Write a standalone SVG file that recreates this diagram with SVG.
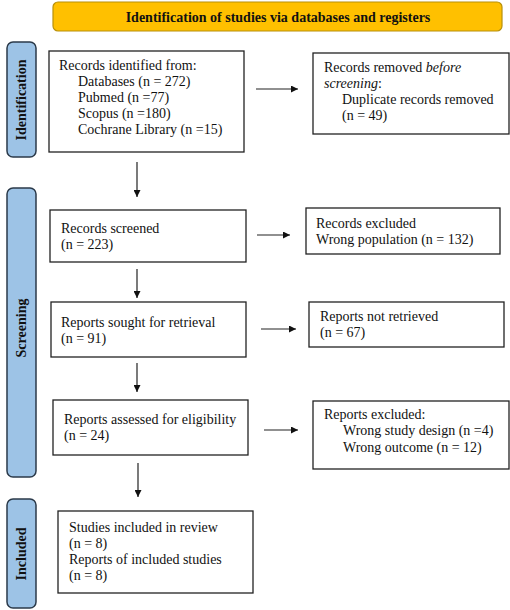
<svg xmlns="http://www.w3.org/2000/svg" width="510" height="610" viewBox="0 0 510 610">
<style>
.box{fill:#fff;stroke:#222;stroke-width:1.3}
.t{font-family:"Liberation Serif","Times New Roman",serif;font-size:14px;fill:#111}
.side{fill:#9DC3E6;stroke:#2B3A4A;stroke-width:1.5}
.st{font-family:"Liberation Serif","Times New Roman",serif;font-size:14px;font-weight:bold;fill:#111;text-anchor:middle}
.ln{stroke:#222;stroke-width:1.2;fill:none;marker-end:url(#ah)}
</style>
<defs>
<marker id="ah" viewBox="0 0 10 10" refX="10" refY="5" markerWidth="7" markerHeight="7" markerUnits="userSpaceOnUse" orient="auto">
<path d="M0,0 L10,5 L0,10 z" fill="#111"/>
</marker>
</defs>
<g id="banner">
<rect x="53" y="2" width="449" height="29" rx="5" fill="#FFC000" stroke="#B8900A" stroke-width="1.2"/>
<text x="278" y="21.5" class="st">Identification of studies via databases and registers</text>
</g>
<g id="side-identification">
<rect class="side" x="7" y="42" width="29" height="115" rx="6"/>
<text class="st" transform="translate(26,100) rotate(-90)">Identification</text>
</g>
<g id="side-screening">
<rect class="side" x="7" y="188" width="29" height="289" rx="6"/>
<text class="st" transform="translate(26,328) rotate(-90)">Screening</text>
</g>
<g id="side-included">
<rect class="side" x="7" y="499" width="29" height="109" rx="6"/>
<text class="st" transform="translate(26,554) rotate(-90)">Included</text>
</g>
<g id="records-identified">
<rect class="box" x="49" y="51" width="195" height="101"/>
<text class="t" x="59" y="70">Records identified from:</text>
<text class="t" x="78" y="86">Databases (n = 272)</text>
<text class="t" x="78" y="102">Pubmed (n =77)</text>
<text class="t" x="78" y="118">Scopus (n =180)</text>
<text class="t" x="78" y="134">Cochrane Library (n =15)</text>
</g>
<g id="records-removed">
<rect class="box" x="313" y="53" width="196" height="81"/>
<text class="t" x="324" y="72">Records removed <tspan font-style="italic">before</tspan></text>
<text class="t" x="324" y="88"><tspan font-style="italic">screening</tspan>:</text>
<text class="t" x="342" y="104">Duplicate records removed</text>
<text class="t" x="342" y="120">(n = 49)</text>
</g>
<g id="records-screened">
<rect class="box" x="50" y="210" width="196" height="52"/>
<text class="t" x="61" y="233">Records screened</text>
<text class="t" x="61" y="249">(n = 223)</text>
</g>
<g id="records-excluded">
<rect class="box" x="306" y="208" width="194" height="46"/>
<text class="t" x="316" y="228">Records excluded</text>
<text class="t" x="316" y="244">Wrong population (n = 132)</text>
</g>
<g id="reports-sought">
<rect class="box" x="51" y="302" width="195" height="55"/>
<text class="t" x="61" y="327">Reports sought for retrieval</text>
<text class="t" x="61" y="343">(n = 91)</text>
</g>
<g id="reports-not-retrieved">
<rect class="box" x="309" y="302" width="195" height="45"/>
<text class="t" x="320" y="321">Reports not retrieved</text>
<text class="t" x="320" y="337">(n = 67)</text>
</g>
<g id="reports-assessed">
<rect class="box" x="53" y="400" width="195" height="55"/>
<text class="t" x="64" y="424">Reports assessed for eligibility</text>
<text class="t" x="64" y="440">(n = 24)</text>
</g>
<g id="reports-excluded">
<rect class="box" x="313" y="401" width="196" height="68"/>
<text class="t" x="324" y="419">Reports excluded:</text>
<text class="t" x="343" y="435">Wrong study design (n =4)</text>
<text class="t" x="343" y="452">Wrong outcome (n = 12)</text>
</g>
<g id="studies-included">
<rect class="box" x="58" y="511" width="195" height="82"/>
<text class="t" x="69" y="532">Studies included in review</text>
<text class="t" x="69" y="548">(n = 8)</text>
<text class="t" x="69" y="564">Reports of included studies</text>
<text class="t" x="69" y="580">(n = 8)</text>
</g>
<g id="connectors">
<line class="ln" x1="256" y1="89" x2="298" y2="89"/>
<line class="ln" x1="137" y1="162" x2="137" y2="197"/>
<line class="ln" x1="257" y1="235" x2="290" y2="235"/>
<line class="ln" x1="137" y1="269" x2="137" y2="298"/>
<line class="ln" x1="261" y1="329" x2="296" y2="329"/>
<line class="ln" x1="137" y1="363" x2="137" y2="392"/>
<line class="ln" x1="264" y1="430" x2="298" y2="430"/>
<line class="ln" x1="138" y1="463" x2="138" y2="497"/>
</g>
</svg>
